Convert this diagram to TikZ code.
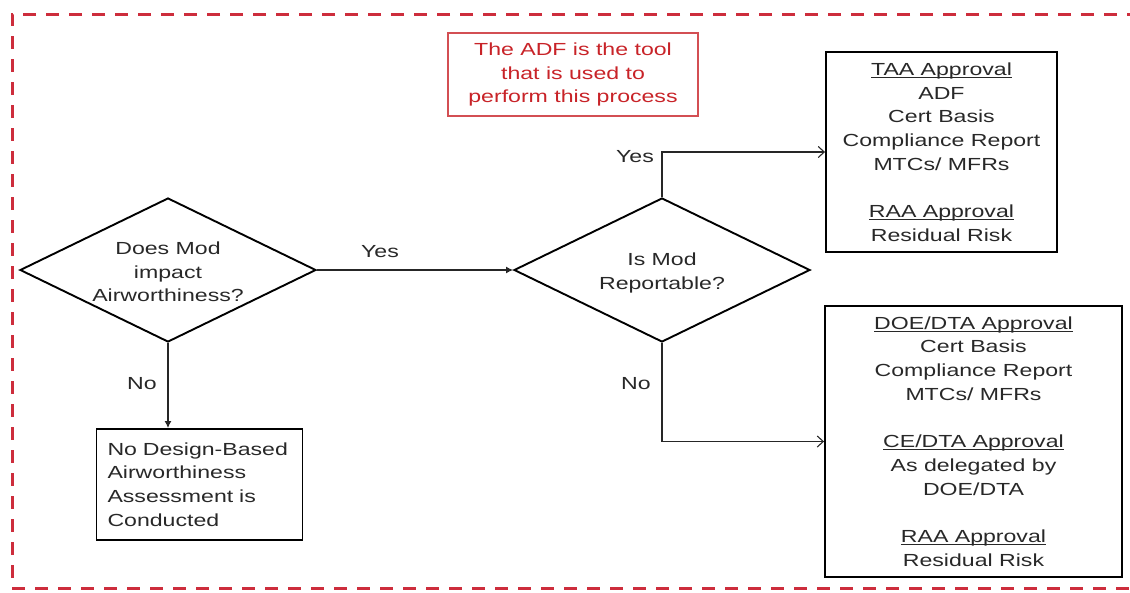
\documentclass[tikz,border=0pt]{standalone}
\usepackage{fontspec}
\setmainfont{Liberation Sans}[FakeStretch=1.32]
\usetikzlibrary{shapes.geometric,arrows.meta}
\definecolor{txt}{RGB}{40,40,40}
\definecolor{bordred}{RGB}{205,45,60}
\definecolor{notered}{RGB}{200,35,40}
\newcommand\ulx[1]{\setbox0\hbox{#1}\rlap{\rule[-2.4pt]{\wd0}{1.1pt}}\box0}
\begin{document}
\begin{tikzpicture}[x=1pt,y=-1pt,
  every node/.style={font=\fontsize{17.5}{23.7}\selectfont, text=txt},
  decision/.style={diamond, draw=black, line width=1.9pt, minimum width=296pt, minimum height=144pt, inner sep=0pt},
  result/.style={rectangle, draw=black, line width=1.9pt, align=center, inner sep=0pt},
  note/.style={rectangle, draw=notered!80, line width=1.1pt, align=center, text=notered, minimum width=250pt, minimum height=83pt, inner sep=0pt},
  lbl/.style={inner sep=0pt, align=center},
  flow/.style={line width=1.2pt, draw=black!85},
  filledtip/.style={-{Latex[length=7pt,width=7pt]}},
  opentip/.style={-{Straight Barb[length=6pt,width=11pt,line width=1.1pt]}},
  frame/.style={draw=bordred, line width=3pt, dash pattern=on 13pt off 10pt}
]
\useasboundingbox (0,0) rectangle (1130,592);
% dashed frame
\draw[frame] (1140,14) -- (12,14) -- (12,588) -- (1140,588);

% note
\node[note] (note) at (573,74.5) {The ADF is the tool\\that is used to\\perform this process};

% decisions
\node[decision] (d1) at (168,270) {};
\node[lbl] (d1text) at (168,272) {Does Mod\\impact\\Airworthiness?};
\node[decision] (d2) at (662,270) {};
\node[lbl] (d2text) at (662,273) {Is Mod\\Reportable?};

% result boxes
\node[result, minimum width=231pt, minimum height=200pt] (taa) at (941.5,152) {%
\ulx{TAA Approval}\\ADF\\Cert Basis\\Compliance Report\\MTCs/ MFRs\\[23.7pt]\ulx{RAA Approval}\\Residual Risk};
\node[result, minimum width=297pt, minimum height=271pt] (doe) at (973.5,441.5) {%
\ulx{DOE/DTA Approval}\\Cert Basis\\Compliance Report\\MTCs/ MFRs\\[23.7pt]\ulx{CE/DTA Approval}\\As delegated by\\DOE/DTA\\[23.7pt]\ulx{RAA Approval}\\Residual Risk};
\node[result, minimum width=206pt, minimum height=111pt, text width=184pt, align=left] (none) at (199.5,484.5) {No Design-Based\\Airworthiness\\Assessment is\\Conducted};

% connectors
\draw[flow, filledtip] (d1.east) -- (d2.west);
\draw[flow, filledtip] (d1.south) -- (d1.south |- none.north);
\draw[flow, opentip] (d2.north) |- (taa.west);
\draw[flow, opentip] (d2.south) |- (doe.west);

% labels
\node[lbl] (yes1) at (380,252) {Yes};
\node[lbl] (no1) at (142,384) {No};
\node[lbl] (yes2) at (635,157) {Yes};
\node[lbl] (no2) at (636,384) {No};
\end{tikzpicture}
\end{document}
